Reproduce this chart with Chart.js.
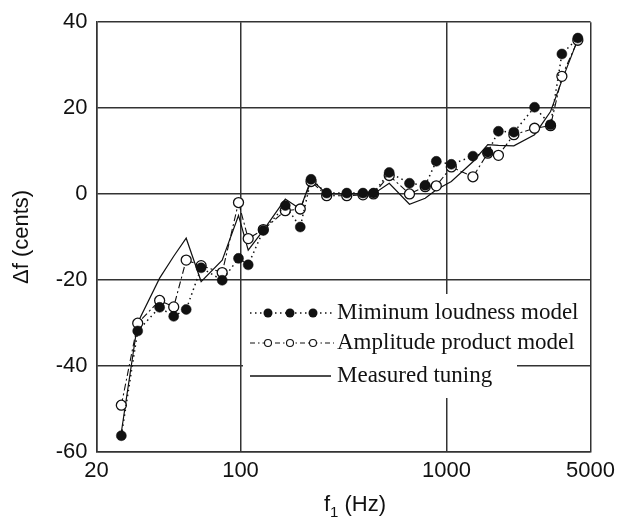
<!DOCTYPE html>
<html>
<head>
<meta charset="utf-8">
<script src="https://cdn.jsdelivr.net/npm/chart.js@4/dist/chart.umd.min.js"></script>
<style>
  html, body { margin: 0; padding: 0; background: #fff; }
  canvas { display: block; }
</style>
</head>
<body>
<canvas id="c" width="621" height="521"></canvas>
<script>
// frequencies f1 (Hz)
const freqs = [26.4, 31.7, 40.5, 47.4, 54.5, 64.4, 81.5, 97.8, 109, 129,
  165, 195, 220, 262, 328, 393, 442, 527, 661, 788,
  892, 1055, 1343, 1586, 1786, 2122, 2675, 3198, 3630, 4339];

// delta f in cents
const loudness = [-56.3, -31.9, -26.4, -28.5, -26.9, -17.2, -20.1, -15.0, -16.5, -8.5,
  -2.7, -7.7, 3.4, 0.2, 0.2, 0.2, 0.2, 5.0, 2.5, 2.0,
  7.6, 6.9, 8.8, 9.7, 14.6, 14.4, 20.2, 16.1, 32.6, 36.3];

const amplitude = [-49.2, -30.1, -24.8, -26.3, -15.4, -16.7, -18.3, -2.0, -10.4, -8.3,
  -3.9, -3.5, 2.9, -0.4, -0.4, -0.2, 0.0, 4.3, 0.0, 1.7,
  1.9, 6.3, 4.0, 9.5, 9.0, 13.8, 15.3, 15.9, 27.4, 35.8];

const measured = [-55.5, -30.0, -19.6, -14.5, -10.3, -20.4, -15.4, -5.0, -13.1, -8.5,
  -1.2, -3.5, 3.4, 0.0, 0.0, 0.0, 0.0, 2.5, -2.4, -1.0,
  1.0, 2.9, 7.5, 11.5, 11.3, 11.2, 13.8, 19.2, 26.4, 36.0];

const xTicks = [20, 100, 1000, 5000];
const yTicks = [-60, -40, -20, 0, 20, 40];

const legendLabels = ['Miminum loudness model', 'Amplitude product model', 'Measured tuning'];

const pts = ys => freqs.map((f, i) => ({ x: f, y: ys[i] }));
const ink = '#111';
const gridCol = '#333';

// legend box + x title with subscript
const extras = {
  id: 'extras',
  afterDraw(chart) {
    const ctx = chart.ctx;
    ctx.save();
    // legend
    ctx.fillStyle = '#fff';
    ctx.fillRect(243, 294, 274, 104);
    const rows = [313, 343, 376];
    const mx = [268, 290, 313];
    ctx.strokeStyle = ink;
    // row 1 dotted with filled dots
    ctx.lineWidth = 1.5;
    ctx.setLineDash([1.5, 3.5]);
    ctx.beginPath(); ctx.moveTo(250, rows[0]); ctx.lineTo(334, rows[0]); ctx.stroke();
    ctx.setLineDash([]);
    ctx.fillStyle = ink;
    mx.forEach(x => { ctx.beginPath(); ctx.arc(x, rows[0], 4.5, 0, Math.PI * 2); ctx.fill(); });
    // row 2 dash-dot with open circles
    ctx.lineWidth = 1.1;
    ctx.setLineDash([5, 3, 1.5, 3]);
    ctx.beginPath(); ctx.moveTo(250, rows[1]); ctx.lineTo(334, rows[1]); ctx.stroke();
    ctx.setLineDash([]);
    mx.forEach(x => {
      ctx.beginPath(); ctx.arc(x, rows[1], 3.5, 0, Math.PI * 2);
      ctx.fillStyle = '#fff'; ctx.fill(); ctx.stroke();
    });
    // row 3 solid
    ctx.lineWidth = 1.3;
    ctx.beginPath(); ctx.moveTo(250, rows[2]); ctx.lineTo(331, rows[2]); ctx.stroke();
    ctx.fillStyle = ink;
    ctx.font = '23px "Liberation Serif", serif';
    ctx.textBaseline = 'middle';
    ctx.textAlign = 'left';
    legendLabels.forEach((t, i) => ctx.fillText(t, 337, rows[i]));

    // x axis title: f1 (Hz)
    ctx.font = '22px "Liberation Sans", Arial, sans-serif';
    ctx.textBaseline = 'alphabetic';
    const f = 'f', sub = '1', rest = ' (Hz)';
    const wf = ctx.measureText(f).width;
    const wr = ctx.measureText(rest).width;
    ctx.font = '15px "Liberation Sans", Arial, sans-serif';
    const ws = ctx.measureText(sub).width;
    const total = wf + ws + wr;
    let x0 = 355 - total / 2;
    const base = 511;
    ctx.font = '22px "Liberation Sans", Arial, sans-serif';
    ctx.fillText(f, x0, base);
    ctx.font = '15px "Liberation Sans", Arial, sans-serif';
    ctx.fillText(sub, x0 + wf, base + 6);
    ctx.font = '22px "Liberation Sans", Arial, sans-serif';
    ctx.fillText(rest, x0 + wf + ws, base);
    ctx.restore();
  }
};

new Chart(document.getElementById('c'), {
  type: 'line',
  data: {
    datasets: [
      {
        label: legendLabels[0],
        data: pts(loudness),
        borderColor: ink,
        borderWidth: 1.5,
        borderDash: [1.5, 3.5],
        pointRadius: 5,
        pointBackgroundColor: ink,
        pointBorderColor: ink,
        pointBorderWidth: 0.5,
        tension: 0
      },
      {
        label: legendLabels[1],
        data: pts(amplitude),
        borderColor: ink,
        borderWidth: 1.1,
        borderDash: [7, 3, 2, 3],
        pointRadius: 5,
        pointBackgroundColor: '#fff',
        pointBorderColor: ink,
        pointBorderWidth: 1.3,
        tension: 0
      },
      {
        label: legendLabels[2],
        data: pts(measured),
        borderColor: ink,
        borderWidth: 1.2,
        pointRadius: 0,
        tension: 0
      }
    ]
  },
  options: {
    responsive: false,
    animation: false,
    layout: { padding: { top: 18, right: 29, left: 0, bottom: 0 } },
    plugins: { legend: { display: false }, tooltip: { enabled: false } },
    scales: {
      x: {
        type: 'logarithmic',
        min: 20,
        max: 5000,
        afterBuildTicks: s => { s.ticks = xTicks.map(v => ({ value: v })); },
        afterFit: s => { s.height = 69.4; },
        ticks: {
          color: ink,
          padding: 6,
          maxRotation: 0,
          autoSkip: false,
          font: { family: '"Liberation Sans", Arial, sans-serif', size: 22 },
          callback: v => String(v)
        },
        grid: { color: gridCol, lineWidth: 1.5, drawTicks: false },
        border: { color: gridCol, width: 1.5 }
      },
      y: {
        min: -60,
        max: 40,
        afterBuildTicks: s => { s.ticks = yTicks.map(v => ({ value: v })); },
        afterFit: s => { s.width = 96.5; },
        ticks: {
          color: ink,
          padding: 9,
          font: { family: '"Liberation Sans", Arial, sans-serif', size: 22 }
        },
        grid: { color: gridCol, lineWidth: 1.5, drawTicks: false },
        border: { color: gridCol, width: 1.5 },
        title: {
          display: true,
          text: 'Δf (cents)',
          color: ink,
          padding: { top: 9, bottom: 0 },
          font: { family: '"Liberation Sans", Arial, sans-serif', size: 22 }
        }
      }
    }
  },
  plugins: [extras]
});
</script>
</body>
</html>
